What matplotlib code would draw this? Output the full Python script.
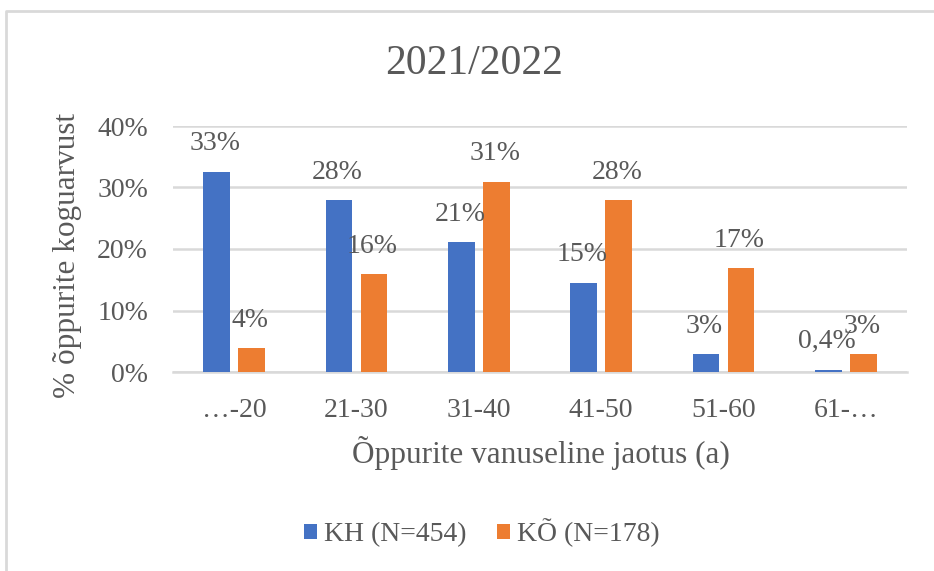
import matplotlib
matplotlib.use("Agg")
import matplotlib.pyplot as plt
import numpy as np
from matplotlib.lines import Line2D
from matplotlib.patches import Patch

categories = ["…-20", "21-30", "31-40", "41-50", "51-60", "61-…"]
kh_values = [32.6, 27.9, 21.1, 14.5, 2.9, 0.4]
ko_values = [3.9, 15.9, 30.9, 27.9, 16.9, 2.9]
kh_labels = ["33%", "28%", "21%", "15%", "3%", "0,4%"]
ko_labels = ["4%", "16%", "31%", "28%", "17%", "3%"]
series_names = ["KH (N=454)", "KÕ (N=178)"]
yticks = [0, 10, 20, 30, 40]
ytick_labels = ["0%", "10%", "20%", "30%", "40%"]

W, H = 934, 571
DPI = 100
plt.rcParams['font.family'] = ['Liberation Serif', 'DejaVu Serif']
TXT = "#595959"
BLUE = "#4472C4"
ORANGE = "#ED7D31"
GRID = "#d9d9d9"

fig = plt.figure(figsize=(W / DPI, H / DPI), dpi=DPI)
fig.patch.set_facecolor("white")

left, right, top, bottom = 173, 907, 126, 372
ax = fig.add_axes([left / W, 1 - bottom / H, (right - left) / W, (bottom - top) / H])

x = np.arange(len(categories))
bw = 0.22
off = 0.143
b1 = ax.bar(x - off, kh_values, bw, color=BLUE, zorder=3)
b2 = ax.bar(x + off, ko_values, bw, color=ORANGE, zorder=3)

for xi, v, lab in zip(x - off, kh_values, kh_labels):
    ax.annotate(lab, (xi, v), xytext=(-1.5, 28), textcoords="offset pixels",
                ha="center", va="center", fontsize=20, color=TXT, zorder=4)
for xi, v, lab in zip(x + off, ko_values, ko_labels):
    ax.annotate(lab, (xi, v), xytext=(-1.5, 28), textcoords="offset pixels",
                ha="center", va="center", fontsize=20, color=TXT, zorder=4)

ax.set_xlim(-0.5, len(categories) - 0.5)
ax.set_ylim(0, 40)
ax.set_yticks(yticks)
ax.set_yticklabels(ytick_labels)
ax.set_xticks(x)
ax.set_xticklabels(categories)
ax.yaxis.grid(True, color=GRID, linewidth=1.8, zorder=0)
ax.set_axisbelow(True)
for s in ["top", "right", "left"]:
    ax.spines[s].set_visible(False)
ax.spines["bottom"].set_color(GRID)
ax.spines["bottom"].set_linewidth(1.8)
ax.tick_params(axis="both", length=0, colors=TXT, labelsize=20)
ax.tick_params(axis="y", pad=18)
ax.tick_params(axis="x", pad=19)

fig.text(474 / W, 1 - 64 / H, "2021/2022", ha="center", va="center",
         fontsize=30, color=TXT)
fig.text(541 / W, 1 - 453 / H, "Õppurite vanuseline jaotus (a)", ha="center",
         va="center", fontsize=22.5, color=TXT)
fig.text(68 / W, 1 - 255 / H, "% õppurite koguarvust", ha="center", va="center",
         rotation=90, fontsize=22.5, color=TXT)

handles = [Patch(facecolor=BLUE), Patch(facecolor=ORANGE)]
fig.legend(handles, series_names, loc="center", bbox_to_anchor=(481.5 / W, 1 - 533 / H),
           ncol=2, frameon=False, fontsize=20, labelcolor=TXT,
           handlelength=0.47, handleheight=0.47, handletextpad=0.25, columnspacing=1.1)

# chart frame (left and top borders)
fig.add_artist(Line2D([5.5 / W, 5.5 / W, 1.0], [0.0, 1 - 11 / H, 1 - 11 / H],
                      transform=fig.transFigure, color=GRID, linewidth=2))

fig.savefig("out.png", dpi=DPI, facecolor="white")
